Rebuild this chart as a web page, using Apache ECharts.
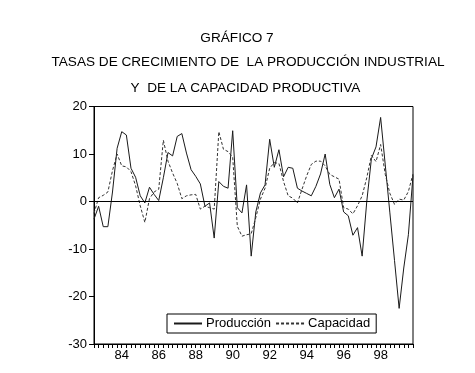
<!DOCTYPE html>
<html><head><meta charset="utf-8">
<script src="https://cdn.jsdelivr.net/npm/echarts@6/dist/echarts.min.js"></script>
<style>html,body{margin:0;padding:0;background:#fff}#c{width:475px;height:373px}</style>
</head><body><div id="c"></div>
<script>
var startYear = 1982, startQuarter = 3, nObs = 70;
var quarters = [];
(function(){ var y = startYear, q = startQuarter; for (var i = 0; i < nObs; i++) { quarters.push(y + 'Q' + q); q++; if (q > 4) { q = 1; y++; } } })();
var yTicks = [-30, -20, -10, 0, 10, 20];
var produccion = [-3.7,-1.0,-5.3,-5.3,2.0,11.2,14.7,14.0,7.0,5.1,
  1.2,-0.3,3.0,1.5,0.2,5.0,10.3,9.6,13.7,14.3,
  10.2,6.7,5.3,3.7,-1.0,-0.3,-7.7,4.2,3.2,2.8,
  14.9,-1.3,-2.4,3.5,-11.5,-2.2,1.8,3.5,13.1,7.2,
  10.9,5.2,7.2,7.0,2.8,2.2,1.7,1.2,3.2,5.8,
  10.0,3.6,0.8,2.6,-2.2,-3.0,-7.1,-5.5,-11.5,0.0,
  9.0,11.5,17.7,7.7,-2.4,-12.4,-22.5,-14.0,-7.0,5.5];
var capacidad = [-2.5,0.8,1.3,2.0,6.5,10.0,7.5,7.3,6.3,3.3,
  -0.9,-4.4,0.6,2.0,2.6,12.9,8.5,6.0,3.8,0.6,
  1.2,1.4,1.5,-1.6,-1.0,-1.3,-1.6,14.7,11.0,10.5,
  9.3,-5.2,-7.3,-7.0,-6.8,-3.4,0.5,2.8,7.0,8.2,
  8.0,4.2,1.2,0.7,-0.3,2.6,5.4,7.8,8.5,8.5,
  7.5,5.7,5.2,4.7,-1.3,-1.6,-2.6,-0.9,1.2,5.0,
  9.7,8.4,12.0,5.7,1.7,-0.6,0.5,0.3,2.1,5.8];
var titleLines = ['GRÁFICO 7', 'TASAS DE CRECIMIENTO DE  LA PRODUCCIÓN INDUSTRIAL', 'Y  DE LA CAPACIDAD PRODUCTIVA'];
var seriesNames = ['Producción', 'Capacidad'];

var FONT = '"Liberation Sans", Arial, sans-serif';
var chart = echarts.init(document.getElementById('c'), null, {renderer: 'canvas'});
function isLabel(v){ var y = parseInt(v.slice(0,4),10); return v.slice(5) === '1' && y % 2 === 0; }
var titlePos = [[237, 38], [248, 62], [245.5, 88]];
chart.setOption({
  animation: false,
  backgroundColor: '#fff',
  textStyle: {fontFamily: FONT, color: '#000'},
  graphic: titleLines.map(function(t, i){
    return {type: 'text', x: titlePos[i][0], y: titlePos[i][1],
      style: {text: t, font: '13.6px ' + FONT, fill: '#000', textAlign: 'center', textVerticalAlign: 'middle'}};
  }),
  grid: {left: 94, top: 106.5, width: 319, height: 237.5, show: true, borderColor: '#000', borderWidth: 1, backgroundColor: 'transparent'},
  legend: {
    left: 167, top: 314, orient: 'horizontal',
    data: seriesNames,
    itemWidth: 28, itemHeight: 10, itemGap: 4,
    itemStyle: {opacity: 0},
    padding: [3, 6], borderColor: '#000', borderWidth: 1, backgroundColor: '#fff',
    textStyle: {fontFamily: FONT, fontSize: 13, color: '#000', padding: [0,0,0,-1]},
    z: 10
  },
  xAxis: {
    type: 'category', data: quarters, boundaryGap: false,
    axisLine: {onZero: false, lineStyle: {color: '#000', width: 1}},
    axisTick: {show: true, inside: false, length: 4, interval: 0, lineStyle: {color: '#000'}},
    axisLabel: {interval: function(idx, v){ return isLabel(v); }, formatter: function(v){ return v.slice(2,4); },
      fontFamily: FONT, fontSize: 13, color: '#000', margin: 5},
    splitLine: {show: false}
  },
  yAxis: {
    type: 'value', min: yTicks[0], max: yTicks[yTicks.length-1], interval: 10,
    axisLine: {show: true, lineStyle: {color: '#000'}},
    axisTick: {show: true, inside: false, length: 5, lineStyle: {color: '#000'}},
    axisLabel: {fontFamily: FONT, fontSize: 13, color: '#000', margin: 7},
    splitLine: {show: false}
  },
  series: [
    {name: seriesNames[0], type: 'line', data: produccion, symbol: 'none', smooth: false,
      lineStyle: {color: '#1a1a1a', width: 1, type: 'solid'}, itemStyle: {color: '#1a1a1a'},
      markLine: {silent: true, symbol: 'none', label: {show: false}, lineStyle: {color: '#000', width: 1, type: 'solid'}, data: [{yAxis: 0}]}},
    {name: seriesNames[1], type: 'line', data: capacidad, symbol: 'none', smooth: false,
      lineStyle: {color: '#333', width: 1, type: [3, 2]}, itemStyle: {color: '#333'}}
  ]
});
</script></body></html>
